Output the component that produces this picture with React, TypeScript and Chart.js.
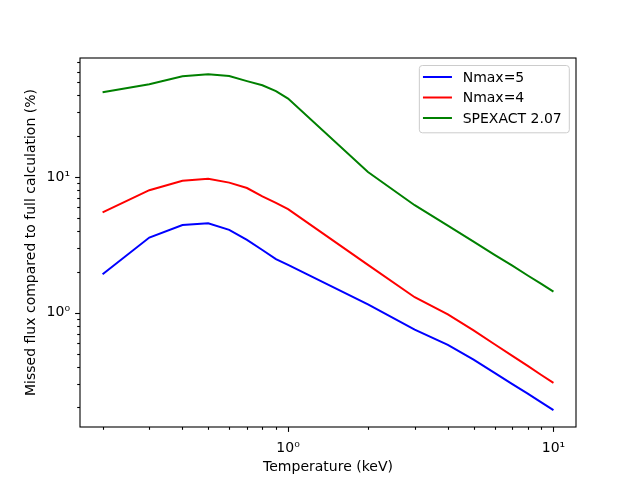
import { useEffect, useRef } from "react";
import { Chart, registerables } from "chart.js";

Chart.register(...registerables);

const temperatures = [0.2, 0.3, 0.4, 0.5, 0.6, 0.7, 0.8, 0.9, 1, 2, 3, 4, 5, 6, 7, 8, 9, 10];
const nmax5 = [1.92, 3.58, 4.43, 4.56, 4.08, 3.44, 2.9, 2.48, 2.25, 1.15, 0.75, 0.58, 0.45, 0.36, 0.297, 0.253, 0.218, 0.191];
const nmax4 = [5.5, 8.0, 9.4, 9.7, 9.1, 8.3, 7.2, 6.45, 5.8, 2.25, 1.3, 0.97, 0.74, 0.585, 0.48, 0.405, 0.347, 0.304];
const spexact = [42.2, 48.3, 55.3, 57.2, 55.6, 51, 47.5, 43, 37.9, 10.9, 6.2, 4.38, 3.34, 2.67, 2.22, 1.88, 1.63, 1.43];

const seriesLabels = ["Nmax=5", "Nmax=4", "SPEXACT 2.07"];
const seriesColors = ["#0000ff", "#ff0000", "#008000"];

const xTickValues = [0.2, 0.3, 0.4, 0.5, 0.6, 0.7, 0.8, 0.9, 1, 2, 3, 4, 5, 6, 7, 8, 9, 10];
const yTickValues = [0.2, 0.3, 0.4, 0.5, 0.6, 0.7, 0.8, 0.9, 1, 2, 3, 4, 5, 6, 7, 8, 9, 10, 20, 30, 40, 50, 60, 70];

const xTitle = "Temperature (keV)";
const yTitle = "Missed flux compared to full calculation (%)";

const FONT = "DejaVu Sans";
const SUP: Record<string, string> = { "-": "⁻", "0": "⁰", "1": "¹", "2": "²", "3": "³" };

function isDecade(v: number) {
  const e = Math.log10(v);
  return Math.abs(e - Math.round(e)) < 1e-9;
}
function decadeLabel(v: number) {
  if (!isDecade(v)) return "";
  const e = String(Math.round(Math.log10(v)));
  return "10" + e.split("").map((c) => SUP[c] ?? c).join("");
}

const framePlugin = {
  id: "mplFrame",
  afterDraw(chart: any) {
    const ctx = chart.ctx as CanvasRenderingContext2D;
    const a = chart.chartArea;
    ctx.save();
    ctx.strokeStyle = "#000";
    ctx.lineWidth = 1.1;
    const xs = chart.scales.x;
    for (const t of xs.ticks) {
      const p = Math.round(xs.getPixelForValue(t.value)) + 0.5;
      const len = isDecade(t.value) ? 4.9 : 2.8;
      ctx.beginPath();
      ctx.moveTo(p, a.bottom);
      ctx.lineTo(p, a.bottom + len);
      ctx.stroke();
    }
    const ys = chart.scales.y;
    for (const t of ys.ticks) {
      const p = Math.round(ys.getPixelForValue(t.value)) + 0.5;
      const len = isDecade(t.value) ? 4.9 : 2.8;
      ctx.beginPath();
      ctx.moveTo(a.left, p);
      ctx.lineTo(a.left - len, p);
      ctx.stroke();
    }
    ctx.strokeRect(a.left, a.top, a.right - a.left, a.bottom - a.top);

    // legend
    ctx.font = `14px "${FONT}"`;
    const ds = chart.data.datasets;
    let tw = 0;
    for (const d of ds) tw = Math.max(tw, ctx.measureText(d.label).width);
    const right = a.right - 6.7;
    const left = right - 7.6 - tw - 10.7 - 29 - 3.6;
    const top = a.top + 7.5;
    const h = 67.3;
    const r = 3;
    ctx.beginPath();
    ctx.moveTo(left + r, top);
    ctx.lineTo(right - r, top);
    ctx.arcTo(right, top, right, top + r, r);
    ctx.lineTo(right, top + h - r);
    ctx.arcTo(right, top + h, right - r, top + h, r);
    ctx.lineTo(left + r, top + h);
    ctx.arcTo(left, top + h, left, top + h - r, r);
    ctx.lineTo(left, top + r);
    ctx.arcTo(left, top, left + r, top, r);
    ctx.closePath();
    ctx.fillStyle = "rgba(255,255,255,0.8)";
    ctx.fill();
    ctx.strokeStyle = "#cccccc";
    ctx.lineWidth = 1;
    ctx.stroke();
    ds.forEach((d: any, i: number) => {
      const y = top + 11.5 + i * 20.5;
      ctx.strokeStyle = d.borderColor;
      ctx.lineWidth = 2;
      ctx.beginPath();
      ctx.moveTo(left + 3.6, y);
      ctx.lineTo(left + 3.6 + 29, y);
      ctx.stroke();
      ctx.fillStyle = "#000";
      ctx.textBaseline = "middle";
      ctx.textAlign = "left";
      ctx.fillText(d.label, left + 3.6 + 29 + 10.7, y + 1);
    });
    ctx.restore();
  },
};

export default function App() {
  const ref = useRef<HTMLCanvasElement | null>(null);
  useEffect(() => {
    document.body.style.margin = "0";
    const canvas = ref.current;
    if (!canvas) return;
    Chart.defaults.font.family = FONT;
    Chart.defaults.font.size = 14;
    Chart.defaults.color = "#000";
    const series = [nmax5, nmax4, spexact];
    const chart = new Chart(canvas, {
      type: "line",
      data: {
        datasets: series.map((vals, i) => ({
          label: seriesLabels[i],
          data: temperatures.map((t, j) => ({ x: t, y: vals[j] })),
          borderColor: seriesColors[i],
          backgroundColor: seriesColors[i],
          borderWidth: 2,
          pointRadius: 0,
          tension: 0,
          fill: false,
        })),
      },
      options: {
        animation: false,
        responsive: false,
        maintainAspectRatio: false,
        layout: { padding: { left: 0, top: 58, right: 64, bottom: 0 } },
        plugins: { legend: { display: false }, tooltip: { enabled: false } },
        scales: {
          x: {
            type: "logarithmic",
            min: 0.1644,
            max: 12.16,
            afterBuildTicks: (s: any) => {
              s.ticks = xTickValues.map((v) => ({ value: v }));
            },
            afterFit: (s: any) => {
              s.height = 53;
            },
            grid: { display: false },
            border: { display: false },
            ticks: {
              autoSkip: false,
              maxRotation: 0,
              padding: 5,
              color: "#000",
              font: { family: FONT, size: 14 },
              callback: (v: any) => decadeLabel(Number(v)),
            },
            title: {
              display: true,
              text: xTitle,
              color: "#000",
              font: { family: FONT, size: 14 },
              padding: { top: 0, bottom: 4.6 },
            },
          },
          y: {
            type: "logarithmic",
            min: 0.1436,
            max: 75.5,
            afterBuildTicks: (s: any) => {
              s.ticks = yTickValues.map((v) => ({ value: v }));
            },
            afterFit: (s: any) => {
              s.width = 80;
            },
            grid: { display: false },
            border: { display: false },
            ticks: {
              autoSkip: false,
              padding: 2,
              color: "#000",
              font: { family: FONT, size: 14 },
              callback: (v: any) => decadeLabel(Number(v)),
            },
            title: {
              display: true,
              text: yTitle,
              color: "#000",
              font: { family: FONT, size: 14 },
              padding: { top: 22.6, bottom: 0 },
            },
          },
        },
      },
      plugins: [framePlugin],
    });
    return () => chart.destroy();
  }, []);
  return <canvas ref={ref} width={640} height={480} style={{ display: "block" }} />;
}
